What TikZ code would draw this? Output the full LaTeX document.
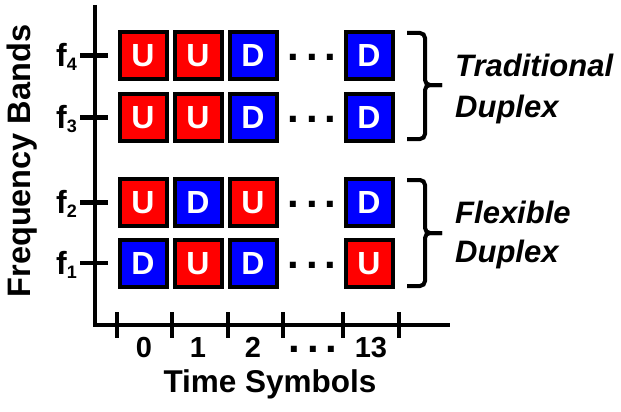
\documentclass[tikz,border=0pt]{standalone}
\usepackage{fontspec}
\setmainfont{Liberation Sans}
\definecolor{upred}{RGB}{255,0,0}
\definecolor{downblue}{RGB}{0,0,255}

\begin{document}
\begin{tikzpicture}[x=1pt,y=-1pt,
  axis/.style={line width=4.5pt},
  slot/.style={draw=black, line width=4pt, minimum size=47pt, inner sep=0pt,
    text=white, font=\fontsize{32}{32}\selectfont\bfseries,
    text height=22.9pt, text depth=0pt},
  slotU/.style={slot, fill=upred},
  slotD/.style={slot, fill=downblue},
  ellip/.style={inner sep=0pt, anchor=base, font=\fontsize{42}{42}\selectfont\bfseries},
  ticklabel/.style={inner sep=0pt, anchor=base, font=\fontsize{29}{29}\selectfont\bfseries},
  flabel/.style={inner sep=0pt, anchor=base east, font=\fontsize{32}{32}\selectfont\bfseries},
  axislabel/.style={inner sep=0pt, anchor=base, font=\fontsize{31.5}{31.5}\selectfont\bfseries},
  grouplabel/.style={inner sep=0pt, anchor=base west, font=\fontsize{31}{31}\selectfont\bfseries\itshape},
  brace/.style={line width=4pt, rounded corners=5pt}
]
\useasboundingbox (0,0) rectangle (621,412);

% axes
\coordinate (ytop) at (95,5);
\coordinate (origin) at (95,325);
\coordinate (xend) at (450,325);
\draw[axis] (ytop) -- (origin) -- (xend);

% time ticks
\foreach \x in {117,172,228,283,343,399}
  \draw[axis] (\x,312) -- (\x,338);

% time labels
\node[ticklabel] (t0) at (144,357) {0};
\node[ticklabel] (t1) at (198,357) {1};
\node[ticklabel] (t2) at (253,357) {2};
\node[ellip] (tdots) at (313,352) {.\hspace{6.8pt}.\hspace{6.8pt}.};
\node[ticklabel] (t13) at (371,357) {13};
\node[axislabel] (xlabel) at (270,392) {Time Symbols};
\node[axislabel, font=\fontsize{32.5}{32.5}\selectfont\bfseries, rotate=90] (ylabel) at (30,161) {Frequency Bands};

% frequency bands: ticks, labels, slots
\foreach \r/\y/\a/\b/\c/\d in {4/55.5/U/U/D/D,
                               3/117.5/U/U/D/D,
                               2/202.5/U/D/U/D,
                               1/263/D/U/D/U} {
  \draw[axis] (80,\y) -- (108,\y);
  \node[flabel] (f\r) at (77,\y+11) {f\raisebox{-4pt}{\fontsize{18}{18}\selectfont \r}};
  \node[slot\a] (s\r a) at (143,\y) {\a};
  \node[slot\b] (s\r b) at (198,\y) {\b};
  \node[slot\c] (s\r c) at (253,\y) {\c};
  \node[ellip] (dots\r) at (312,\y+5) {.\hspace{6.8pt}.\hspace{6.8pt}.};
  \node[slot\d] (s\r d) at (369,\y) {\d};
}

% braces
\draw[brace] (407,33) -- (425,33) -- (425,85) -- (442,85);
\draw[brace] (407,139) -- (425,139) -- (425,85) -- (442,85);
\draw[brace] (407,180) -- (425,180) -- (425,233) -- (442,233);
\draw[brace] (407,286) -- (425,286) -- (425,233) -- (442,233);

\node[grouplabel] (trad1) at (455,77) {Traditional};
\node[grouplabel] (trad2) at (455,117) {Duplex};
\node[grouplabel] (flex1) at (455,223) {Flexible};
\node[grouplabel] (flex2) at (455,262) {Duplex};
\end{tikzpicture}
\end{document}
